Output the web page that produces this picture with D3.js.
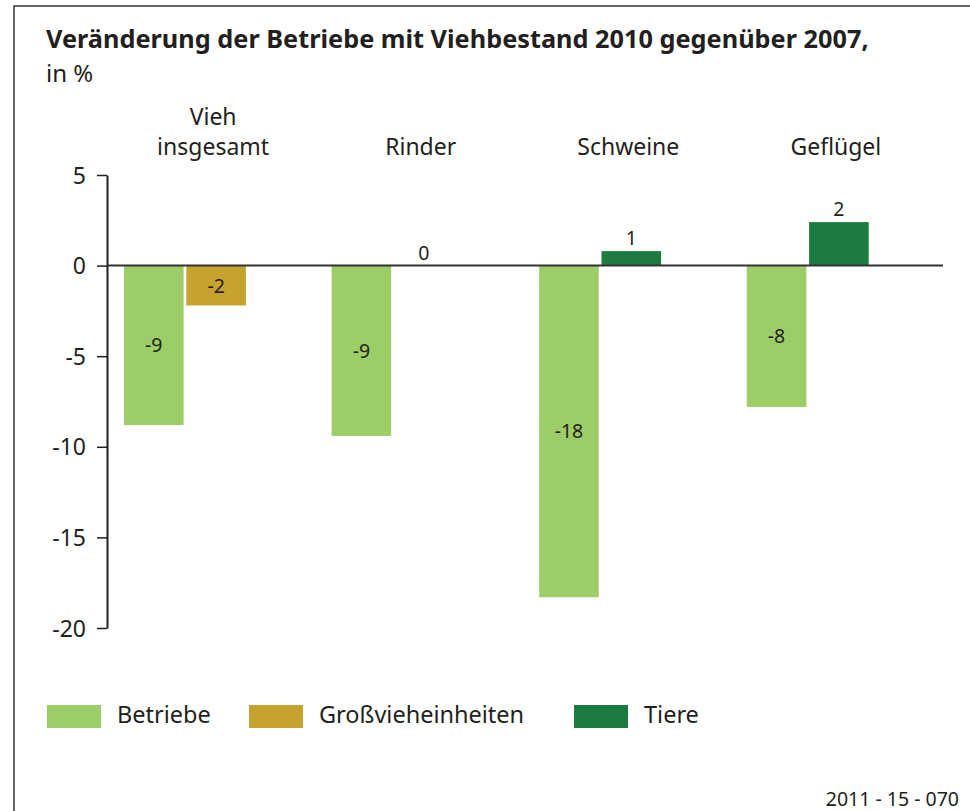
<!DOCTYPE html>
<html>
<head>
<meta charset="utf-8">
<title>Veränderung der Betriebe mit Viehbestand</title>
<style>
  body { margin: 0; background: #fff; }
  svg text { font-family: "Noto Sans", "Open Sans", sans-serif; fill: #231f20; }
</style>
</head>
<body>
<svg id="chart"></svg>
<script src="https://cdn.jsdelivr.net/npm/d3@7"></script>
<script>
// data
var categories = [["Vieh", "insgesamt"], ["Rinder"], ["Schweine"], ["Geflügel"]];
var betriebe = [-8.8, -9.4, -18.3, -7.8];
var betriebeLabels = ["-9", "-9", "-18", "-8"];
// second bar per category: which series it belongs to, its value, its label
var secondSeries = ["Großvieheinheiten", "Großvieheinheiten", "Tiere", "Tiere"];
var secondValues = [-2.2, 0, 0.8, 2.4];
var secondLabels = ["-2", "0", "1", "2"];
var seriesNames = ["Betriebe", "Großvieheinheiten", "Tiere"];
var seriesColors = ["#9dcd66", "#c6a22e", "#1b7b40"];
var yTicks = [5, 0, -5, -10, -15, -20];

var width = 970, height = 811;
var svg = d3.select("#chart").attr("width", width).attr("height", height);

var color = d3.scaleOrdinal().domain(seriesNames).range(seriesColors);

var catNames = categories.map(function (c) { return c.join(" "); });
var x = d3.scaleBand().domain(catNames).range([124, 931]).paddingInner(0.1125).paddingOuter(0);
var slot = d3.scaleBand().domain([0, 1, 2]).range([0, x.bandwidth()]).paddingInner(0.044);
var y = d3.scaleLinear().domain([-20, 5]).range([628, 175]);

// frame
svg.append("path")
  .attr("d", "M14," + height + "V6H" + width)
  .attr("fill", "none").attr("stroke", "#333").attr("stroke-width", 1.5);

// title
svg.append("text").attr("x", 46).attr("y", 48)
  .style("font-size", "25.3px").style("font-weight", "bold")
  .text("Veränderung der Betriebe mit Viehbestand 2010 gegenüber 2007,");
svg.append("text").attr("x", 46).attr("y", 82)
  .style("font-size", "24px")
  .text("in %");

// category labels
svg.selectAll(".cat")
  .data(categories)
  .enter().append("text")
  .attr("class", "cat")
  .attr("text-anchor", "middle")
  .style("font-size", "23px")
  .each(function (d, i) {
    var t = d3.select(this);
    var cx = x(catNames[i]) + x.bandwidth() / 2 - 3;
    d.forEach(function (line, j) {
      t.append("tspan").attr("x", cx).attr("y", 155 - (d.length - 1 - j) * 30).text(line);
    });
  });

// bars
var bars = [];
catNames.forEach(function (c, i) {
  bars.push({ cat: c, slot: 0, series: "Betriebe", value: betriebe[i], label: betriebeLabels[i] });
  bars.push({ cat: c, slot: 1, series: secondSeries[i], value: secondValues[i], label: secondLabels[i] });
});

svg.selectAll(".bar")
  .data(bars)
  .enter().append("rect")
  .attr("class", "bar")
  .attr("x", function (d) { return x(d.cat) + slot(d.slot); })
  .attr("width", slot.bandwidth())
  .attr("y", function (d) { return y(Math.max(0, d.value)); })
  .attr("height", function (d) { return Math.abs(y(d.value) - y(0)); })
  .attr("fill", function (d) { return color(d.series); });

svg.selectAll(".val")
  .data(bars)
  .enter().append("text")
  .attr("class", "val")
  .attr("text-anchor", "middle")
  .style("font-size", "19.5px")
  .attr("x", function (d) { return x(d.cat) + slot(d.slot) + slot.bandwidth() / 2; })
  .attr("y", function (d) {
    if (d.value < 0) return (y(0) + y(d.value)) / 2 + 7;
    return y(d.value) - 6;
  })
  .text(function (d) { return d.label; });

// y axis
var yAxis = svg.append("g")
  .attr("transform", "translate(107,0)")
  .call(d3.axisLeft(y).tickValues(yTicks).tickSize(10).tickSizeOuter(0).tickPadding(11)
    .tickFormat(function (d) { return String(d); }));
yAxis.select(".domain").attr("stroke", "#231f20").attr("stroke-width", 2);
yAxis.selectAll(".tick line").attr("stroke", "#231f20").attr("stroke-width", 1.5);
yAxis.selectAll(".tick text")
  .style("font-size", "23px")
  .attr("font-family", null)
  .attr("dy", "0.35em");

// zero line
svg.append("line")
  .attr("x1", 107).attr("x2", 943)
  .attr("y1", y(0)).attr("y2", y(0))
  .attr("stroke", "#333").attr("stroke-width", 2);

// legend
var legendX = [47, 249, 574];
var legend = svg.selectAll(".leg")
  .data(seriesNames)
  .enter().append("g")
  .attr("class", "leg")
  .attr("transform", function (d, i) { return "translate(" + legendX[i] + ",705)"; });
legend.append("rect").attr("width", 54).attr("height", 23).attr("fill", function (d) { return color(d); });
legend.append("text").attr("x", 70).attr("y", 18).style("font-size", "23.5px").text(function (d) { return d; });

// source code
svg.append("text").attr("x", 959).attr("y", 806).attr("text-anchor", "end")
  .style("font-size", "19.5px").text("2011 - 15 - 070");
</script>
</body>
</html>
